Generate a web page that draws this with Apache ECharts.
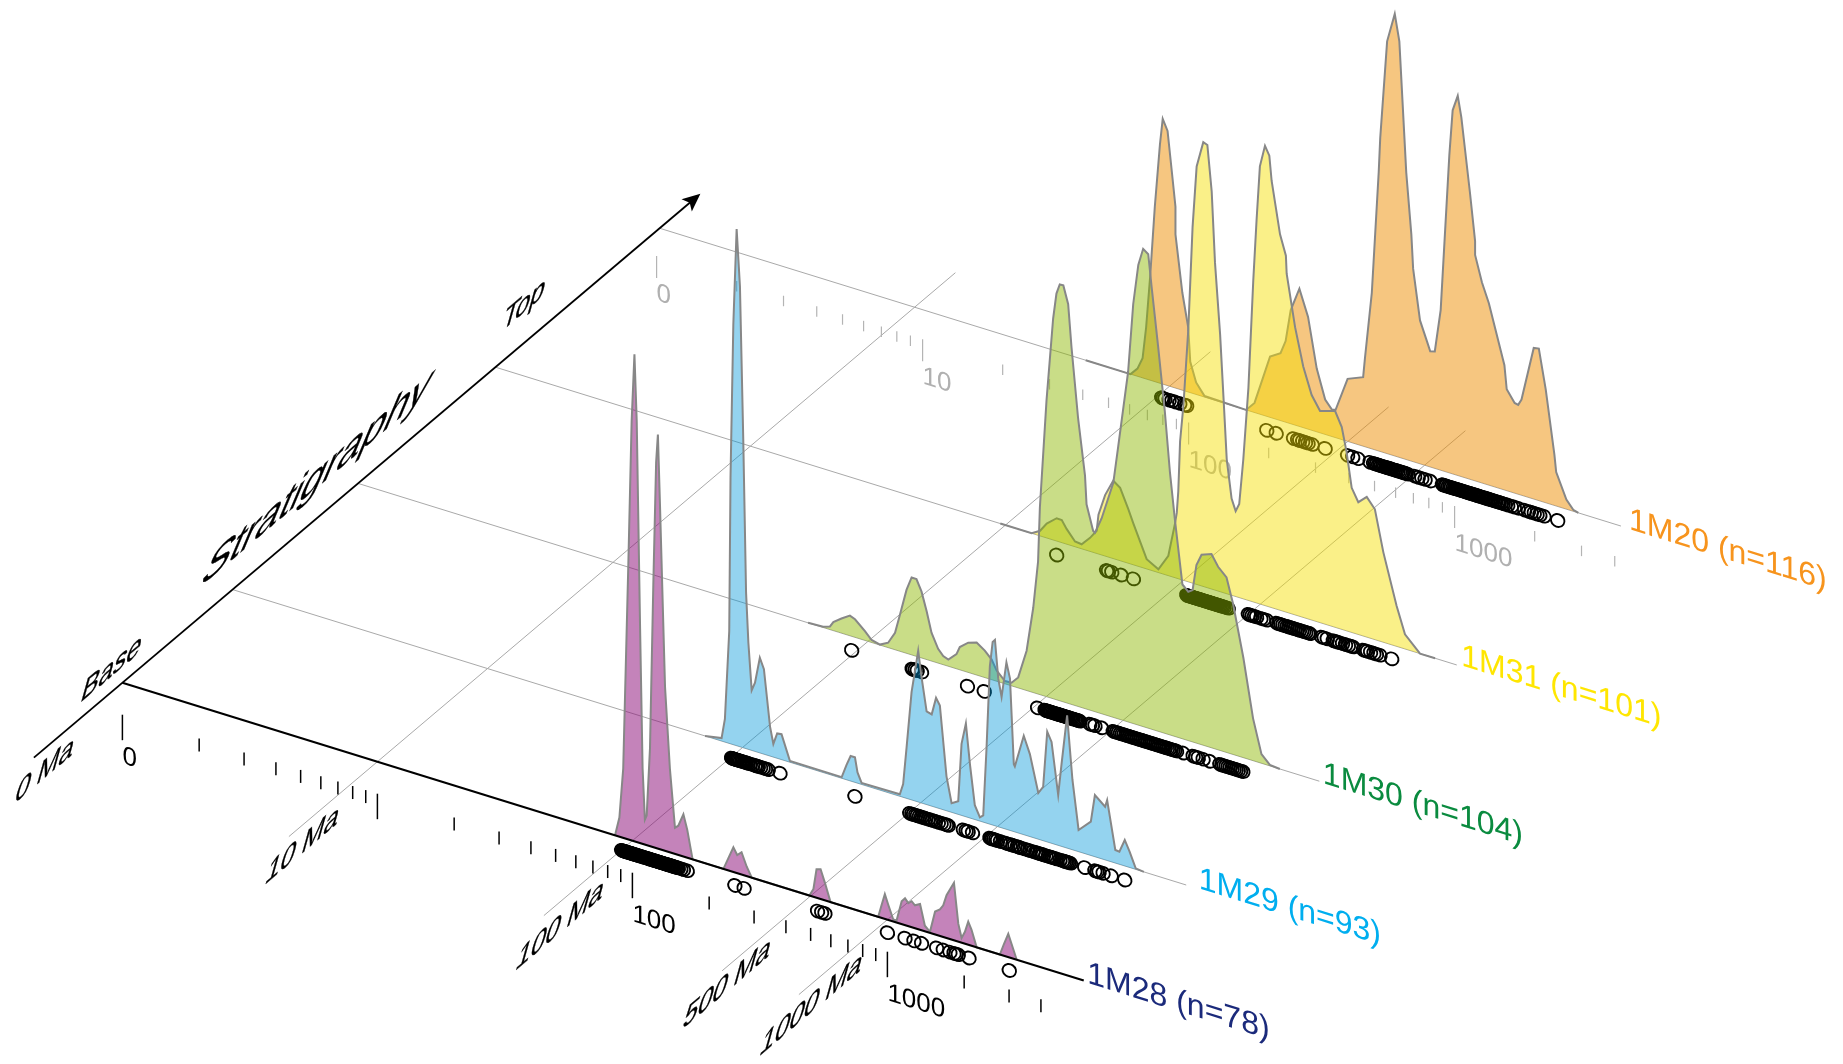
<!DOCTYPE html>
<html>
<head>
<meta charset="utf-8">
<style>html,body{margin:0;padding:0;background:#fff}#chart{width:1843px;height:1064px}</style>
<script src="https://cdn.jsdelivr.net/npm/echarts@6/dist/echarts.min.js"></script>
</head>
<body>
<div id="chart"></div>
<script>
// ---- data: [log10(age in Ma), relative probability] ----
const density1M20 = [[1.671,0],[1.847,0],[1.874,7.7],[1.894,19.6],[1.908,51.7],[1.924,104.7],[1.942,174.9],[1.962,238.5],[1.973,265.2],[1.992,254.6],[2.009,214.7],[2.023,181.3],[2.023,153.7],[2.05,97.4],[2.073,64.7],[2.081,30.9],[2.104,12],[2.137,1],[2.3,0],[2.333,9.6],[2.367,38.1],[2.394,60.8],[2.435,67.5],[2.455,81.1],[2.475,113.7],[2.509,137.8],[2.543,112.2],[2.577,63.2],[2.61,34.9],[2.637,26.7],[2.651,27.8],[2.698,62.5],[2.759,69],[2.766,88.4],[2.793,156.1],[2.82,278.7],[2.826,313.6],[2.853,412.3],[2.883,442.1],[2.901,416],[2.928,287.2],[2.948,226.8],[2.955,193],[2.982,143.4],[3.009,124.8],[3.022,115.6],[3.04,117],[3.063,160.1],[3.097,317.8],[3.11,363.6],[3.13,379.7],[3.144,359.4],[3.178,286.3],[3.198,239.7],[3.198,225.9],[3.225,200.5],[3.252,181.9],[3.313,124.7],[3.322,101.4],[3.353,90.1],[3.367,89.4],[3.38,95.7],[3.428,151.1],[3.448,152],[3.475,113.4],[3.509,50.7],[3.516,34],[3.556,9.6],[3.583,1.5],[3.603,0]];
const density1M31 = [[1.98,0],[2.103,0],[2.136,5.1],[2.162,14.4],[2.201,22.8],[2.221,22.5],[2.24,15.2],[2.273,5.2],[2.299,4.5],[2.332,13.5],[2.358,22.7],[2.365,39.3],[2.391,60.9],[2.423,77.8],[2.45,72.8],[2.482,54],[2.502,41.2],[2.554,9.7],[2.6,3.3],[2.639,19.9],[2.665,54.1],[2.672,65.3],[2.678,87.3],[2.685,137.8],[2.698,174.5],[2.717,251.1],[2.734,356],[2.75,417.9],[2.776,444.3],[2.792,442.7],[2.809,397.6],[2.822,327.2],[2.842,257.3],[2.857,187.1],[2.868,134.4],[2.887,96.7],[2.903,85.4],[2.917,93.7],[2.933,139.6],[2.953,212.6],[2.972,321.2],[2.985,382.9],[2.998,437.6],[3.018,459.8],[3.035,451.2],[3.044,426.9],[3.077,375.9],[3.1,356.3],[3.103,338.6],[3.136,287.7],[3.168,251],[3.201,225],[3.234,211.6],[3.293,216.2],[3.319,202.2],[3.338,178.7],[3.358,144.6],[3.384,132.3],[3.417,140.2],[3.449,130.3],[3.482,90.1],[3.534,40.6],[3.567,14.6],[3.626,0],[3.685,0]];
const density1M30 = [[1.765,0],[1.824,0.8],[1.851,3.2],[1.864,8.5],[1.896,14.7],[1.929,20.1],[1.949,18.1],[1.988,9.4],[2.014,2.5],[2.047,0.5],[2.079,4.9],[2.106,16.9],[2.125,36.3],[2.151,63.4],[2.171,77.4],[2.19,77.3],[2.21,66.3],[2.23,48.2],[2.249,28.3],[2.275,14.3],[2.295,8.7],[2.315,6.7],[2.347,14.7],[2.36,22.8],[2.393,29.7],[2.426,32.5],[2.458,26.9],[2.485,20.1],[2.504,10.9],[2.537,2.8],[2.563,3.1],[2.589,10.5],[2.622,39.8],[2.648,84.8],[2.667,132.8],[2.674,186.9],[2.7,296],[2.726,380.2],[2.739,406.2],[2.752,416.3],[2.766,416.5],[2.785,399.2],[2.798,357.4],[2.824,288],[2.851,232.9],[2.857,204.8],[2.883,180.2],[2.89,178.9],[2.916,195.3],[2.962,234.6],[2.981,271.9],[3.02,350],[3.04,419.3],[3.06,460.2],[3.079,477.8],[3.099,474],[3.112,442.9],[3.138,384.2],[3.164,322],[3.184,262.9],[3.203,218],[3.216,190.4],[3.233,154.3],[3.256,148.9],[3.273,152],[3.288,178.2],[3.308,189.9],[3.347,193.7],[3.373,183.1],[3.406,175],[3.432,150.3],[3.472,99.9],[3.51,42.3],[3.543,9.1],[3.576,1],[3.615,0]];
const density1M29 = [[1.853,0],[1.918,3],[1.931,23.1],[1.948,112.5],[1.953,266],[1.964,419.9],[1.977,516.7],[1.99,460.3],[2.003,308.2],[2.014,156],[2.023,106.9],[2.036,60.1],[2.049,68.8],[2.068,95.2],[2.084,85],[2.108,29.5],[2.121,13.2],[2.136,24.9],[2.153,25.4],[2.186,1.2],[2.389,1.2],[2.408,15],[2.424,25],[2.441,25.1],[2.451,10.7],[2.467,1.6],[2.617,2],[2.63,13.3],[2.644,52.6],[2.663,107.8],[2.689,151.2],[2.702,126.2],[2.722,93.3],[2.742,91.8],[2.759,109.6],[2.774,103.2],[2.8,34.4],[2.82,9.2],[2.846,13.2],[2.859,71.5],[2.876,93.2],[2.892,53.7],[2.911,14.4],[2.931,3.7],[2.944,6.7],[2.957,75.1],[2.97,157.8],[2.981,183.1],[2.99,185.9],[3.003,148.1],[3.016,130.8],[3.035,167],[3.049,151.8],[3.064,67.3],[3.068,65.5],[3.103,98.9],[3.127,82.5],[3.16,46.2],[3.179,53.9],[3.195,110.2],[3.212,101.4],[3.238,50.4],[3.251,82.1],[3.273,132.8],[3.294,69.8],[3.318,21.7],[3.366,33.8],[3.382,61.7],[3.422,53.2],[3.43,60.5],[3.462,13.1],[3.478,12.6],[3.499,26],[3.518,15.8],[3.542,1],[3.574,0]];
const density1M28 = [[1.932,0],[1.949,19.1],[1.964,69.3],[1.984,275],[1.997,418.9],[2.008,487],[2.017,420.5],[2.03,217.4],[2.04,75.3],[2.049,25],[2.056,29.6],[2.069,98],[2.082,262.3],[2.093,385.6],[2.1,414],[2.108,346],[2.128,163.8],[2.147,83.8],[2.167,26.1],[2.18,29.2],[2.2,42.2],[2.215,28],[2.236,0],[2.357,0],[2.376,12.1],[2.396,24.6],[2.411,18.2],[2.428,22.3],[2.448,9.6],[2.468,0],[2.694,0],[2.71,7.8],[2.722,28.4],[2.738,29.7],[2.755,17.5],[2.777,0],[2.964,0],[2.977,12.6],[2.99,24.7],[3.004,14.7],[3.023,2],[3.036,2.1],[3.056,22.9],[3.069,26.8],[3.082,23],[3.095,26],[3.108,22.9],[3.128,25.8],[3.147,5.6],[3.167,1.1],[3.187,23],[3.206,26.6],[3.219,31.7],[3.232,42.9],[3.261,57.5],[3.278,18],[3.291,4.8],[3.304,11.9],[3.317,23.1],[3.33,16],[3.35,0],[3.441,0],[3.457,11.8],[3.474,23.3],[3.487,14.2],[3.507,0]];

// ---- single grain ages, log10(age in Ma) ----
const grains1M20 = [1.969,1.975,1.982,1.998,2.009,2.023,2.04,2.059,2.067,2.381,2.418,2.486,2.502,2.51,2.522,2.533,2.543,2.559,2.61,2.698,2.718,2.739,2.786,2.8,2.806,2.812,2.819,2.824,2.83,2.837,2.843,2.849,2.855,2.86,2.866,2.871,2.878,2.884,2.89,2.896,2.903,2.909,2.915,2.921,2.928,2.935,2.961,2.975,2.989,3.002,3.022,3.07,3.075,3.081,3.086,3.093,3.099,3.105,3.112,3.118,3.123,3.129,3.136,3.142,3.148,3.155,3.16,3.166,3.172,3.178,3.183,3.19,3.196,3.203,3.209,3.214,3.22,3.226,3.232,3.238,3.244,3.25,3.256,3.261,3.268,3.274,3.28,3.287,3.293,3.3,3.308,3.315,3.326,3.34,3.352,3.367,3.392,3.407,3.418,3.43,3.441,3.452,3.468,3.522];
const grains1M31 = [2.201,2.397,2.404,2.417,2.454,2.502,2.711,2.715,2.719,2.723,2.728,2.731,2.736,2.74,2.744,2.749,2.753,2.757,2.761,2.766,2.77,2.775,2.779,2.784,2.788,2.792,2.797,2.801,2.805,2.81,2.814,2.819,2.823,2.828,2.832,2.837,2.842,2.847,2.852,2.858,2.866,2.874,2.953,2.96,2.968,2.977,2.985,3.002,3.012,3.025,3.064,3.072,3.08,3.088,3.097,3.105,3.112,3.12,3.128,3.136,3.145,3.153,3.162,3.17,3.178,3.187,3.195,3.24,3.25,3.262,3.286,3.294,3.302,3.31,3.322,3.334,3.345,3.356,3.364,3.404,3.412,3.42,3.432,3.445,3.455,3.469,3.515];
const grains1M30 = [1.936,2.173,2.177,2.185,2.193,2.21,2.39,2.456,2.665,2.694,2.698,2.702,2.707,2.711,2.716,2.72,2.725,2.73,2.734,2.739,2.743,2.748,2.752,2.757,2.761,2.766,2.77,2.775,2.78,2.785,2.79,2.795,2.8,2.805,2.811,2.816,2.821,2.826,2.831,2.87,2.88,2.89,2.916,2.962,2.968,2.975,2.982,2.99,2.997,3.004,3.012,3.019,3.026,3.034,3.041,3.048,3.056,3.063,3.07,3.078,3.085,3.092,3.099,3.107,3.114,3.121,3.129,3.136,3.143,3.151,3.158,3.166,3.174,3.181,3.189,3.196,3.203,3.21,3.236,3.275,3.285,3.295,3.314,3.34,3.38,3.388,3.396,3.404,3.412,3.42,3.428,3.436,3.444,3.452,3.461,3.47];
const grains1M29 = [1.957,1.96,1.964,1.967,1.971,1.975,1.978,1.982,1.987,1.992,1.997,2.002,2.008,2.015,2.022,2.03,2.04,2.05,2.056,2.062,2.071,2.081,2.09,2.101,2.147,2.441,2.656,2.664,2.671,2.679,2.686,2.694,2.702,2.711,2.719,2.728,2.737,2.745,2.756,2.768,2.779,2.79,2.8,2.807,2.866,2.877,2.885,2.902,2.97,2.975,2.98,2.986,2.993,3,3.012,3.03,3.038,3.05,3.06,3.068,3.078,3.085,3.092,3.105,3.118,3.127,3.14,3.15,3.157,3.165,3.173,3.18,3.19,3.2,3.207,3.213,3.22,3.23,3.245,3.255,3.262,3.268,3.274,3.28,3.286,3.342,3.382,3.39,3.398,3.414,3.446,3.499];
const grains1M28 = [1.958,1.962,1.965,1.969,1.972,1.976,1.979,1.983,1.987,1.99,1.994,1.998,2.001,2.005,2.008,2.012,2.016,2.02,2.026,2.031,2.037,2.042,2.047,2.053,2.06,2.064,2.068,2.072,2.076,2.081,2.084,2.088,2.092,2.097,2.1,2.104,2.109,2.112,2.116,2.12,2.125,2.128,2.132,2.137,2.14,2.144,2.149,2.152,2.156,2.16,2.165,2.17,2.175,2.18,2.19,2.2,2.215,2.402,2.438,2.726,2.742,2.755,3,3.069,3.104,3.134,3.193,3.219,3.245,3.261,3.269,3.278,3.32,3.478];

const sampleNames = ['1M20 (n=116)','1M31 (n=101)','1M30 (n=104)','1M29 (n=93)','1M28 (n=78)'];
const sampleLevels = [537.2,373,235.6,110.1,0];          // position along the Stratigraphy axis
const sampleAxisEnds = [3.77,3.77,3.77,3.74,3.77];
const tickAges = [1,2,3,4,5,6,7,8,9,10,20,30,40,50,60,70,80,90,100,200,300,400,500,600,700,800,900,1000,2000,3000,4000];
const majorAges = [1,10,100,1000];
const greyTickLabels = ['0','10','100','1000'];
const frontLabelAges = [1,100,1000];
const frontTickLabels = ['0','100','1000'];
const depoAges = [10,100,500,1000];
const depoLabels = ['0 Ma','10 Ma','100 Ma','500 Ma','1000 Ma'];

// ---- styling and projection ----
const fills = ['rgba(237,141,1,.5)','rgba(244,223,0,.467)','rgba(140,183,0,.47)','rgba(0,150,217,.42)','rgba(137,7,117,.5)'];
const textColors = ['#F7941D','#FFE600','#0A8B3F','#00AEEF','#1B2A7B'];
const FONT = '"Liberation Sans", Arial, sans-serif';
const O = [122.4,682.7], E1 = [255,79], E2 = [1,-0.846];
const LEVEL_MIN = -88.5, LEVEL_MAX = 578;
const nameShift = [[8,-6],[4.5,-8.5],[3.5,-7],[12.5,-5.5],[3.5,-6.5]];
const grainDrop = [14,14,14,14,13];
const project = (logAge, level, density, drop) =>
  [O[0] + logAge*E1[0] + level*E2[0], O[1] + logAge*E1[1] + level*E2[1] - (density||0) + (drop||0)];
const greyAxis = (age, drop) => [656.6 + Math.log10(age)*266, 256 + Math.log10(age)*83.3 + (drop||0)];
const blackAxis = (age, drop) => project(Math.log10(age), 0, 0, 32 + (drop||0));

function affine(X, Y) {
  return {scaleX:X[0], scaleY:Y[1], skewX:Math.atan(Y[0]/Y[1]), skewY:-Math.atan(X[1]/X[0])};
}
const baseSkew = affine([1,0.3098],[0,1]);
const maSkew = {scaleX:1, scaleY:1.32, skewX:Math.atan(-0.28), skewY:Math.atan(0.846)};
const stratSkew = {scaleX:1, scaleY:1.25, skewX:Math.atan(-0.42), skewY:Math.atan(0.846)};

function textEl(api, p, text, size, color, tf, extra) {
  const c = api.coord(p);
  return Object.assign({type:'text', x:c[0], y:c[1],
    style:Object.assign({text:text, fontSize:size, fontFamily:FONT, fill:color, align:'left', verticalAlign:'middle'}, extra||{})}, tf);
}
const custom = (data, renderItem) => ({type:'custom', coordinateSystem:'cartesian2d', xAxisIndex:0, yAxisIndex:0,
  data:data, renderItem:renderItem, silent:true, animation:false, clip:false, encode:{x:0,y:1}});
const segment = (api, a, b, color, w) => {
  const p = api.coord(a), q = api.coord(b);
  return {type:'line', shape:{x1:p[0],y1:p[1],x2:q[0],y2:q[1]}, style:{stroke:color,lineWidth:w}};
};

const series = [];
// depositional-age guide lines
series.push(custom(depoAges.map(a=>[a,0]), (p,api)=>{
  const d = Math.log10(api.value(0));
  return segment(api, project(d,LEVEL_MIN), project(d,LEVEL_MAX), '#a9a9a9', 1);
}));
// stratigraphic level lines of the four rear samples
series.push(custom(sampleLevels.slice(0,4).map((l,i)=>[l,sampleAxisEnds[i]]), (p,api)=>
  segment(api, project(0,api.value(0)), project(api.value(1),api.value(0)), '#a9a9a9', 1)));
// grey age scale at the back
series.push(custom(tickAges.map(a=>[a,0]), (p,api)=>{
  const a = api.value(0), major = majorAges.indexOf(a)>=0;
  return segment(api, greyAxis(a), greyAxis(a, major?22:10.5), '#b4b4b4', 1.2);
}));
series.push(custom(majorAges.map(a=>[a,0]), (p,api)=>
  textEl(api, greyAxis(api.value(0),37), greyTickLabels[p.dataIndex], 26, '#b0b0b0', baseSkew)));

// samples, back to front
[density1M20,density1M31,density1M30,density1M29,density1M28].forEach((curve,i)=>{
  const level = sampleLevels[i];
  series.push(custom(curve, (p,api)=>{
    if (p.dataIndex!==0) return null;
    const pts = curve.map(v=>api.coord(project(v[0],level,v[1])));
    return {type:'group', children:[
      {type:'polygon', shape:{points:pts}, style:{fill:fills[i], stroke:null}},
      {type:'polyline', shape:{points:pts}, style:{fill:null, stroke:'#878787', lineWidth:2}}
    ]};
  }));
  if (i===4) {
    series.push(custom([[level,sampleAxisEnds[i]]], (p,api)=>
      segment(api, project(0,level), project(api.value(1),level), '#000', 2.2)));
  }
  const g = [grains1M20,grains1M31,grains1M30,grains1M29,grains1M28][i];
  series.push(custom(g.map(v=>[v,0]), (p,api)=>{
    const c = api.coord(project(api.value(0),level,0,grainDrop[i]));
    return {type:'ellipse', x:c[0], y:c[1], rotation:-0.6, shape:{cx:0,cy:0,rx:7,ry:6.2},
      style:{fill:'transparent', stroke:'#000', lineWidth:1.9}};
  }));
});

// black age scale in front
series.push(custom(tickAges.map(a=>[a,0]), (p,api)=>{
  const a = api.value(0), major = majorAges.indexOf(a)>=0;
  return segment(api, blackAxis(a), blackAxis(a, major?25.5:13), '#000', 1.5);
}));
series.push(custom(frontLabelAges.map(a=>[a,0]), (p,api)=>
  textEl(api, blackAxis(api.value(0),41.5), frontTickLabels[p.dataIndex], 26, '#000', baseSkew)));
// sample names at the line ends
series.push(custom(sampleNames.map((n,i)=>[sampleLevels[i],sampleAxisEnds[i]]), (p,api)=>{
  const i = p.dataIndex, e = project(api.value(1),api.value(0));
  return textEl(api, [e[0]+nameShift[i][0],e[1]+nameShift[i][1]], sampleNames[i], 32, textColors[i], baseSkew);
}));
// Stratigraphy axis
series.push(custom([[LEVEL_MIN,LEVEL_MAX]], (p,api)=>{
  const a = project(0,api.value(0)), b = project(0,api.value(1));
  const u = [0.763,-0.646], n = [0.646,0.763];
  const at = (al,nr)=>api.coord([b[0]+u[0]*al+n[0]*nr, b[1]+u[1]*al+n[1]*nr]);
  const s = api.coord(a), e = at(-12,0);
  return {type:'group', children:[
    {type:'line', shape:{x1:s[0],y1:s[1],x2:e[0],y2:e[1]}, style:{stroke:'#000',lineWidth:1.8}},
    {type:'polygon', shape:{points:[at(0,0),at(-18,-8),at(-14,0),at(-18,8)]}, style:{fill:'#000'}}
  ]};
}));
// slanted captions
const captionText = ['Stratigraphy','Base','Top'];
const captionSize = [42,26,26];
const captionPos = [[204,574],[82,694],[503,323]];
series.push(custom(captionText.map((t,i)=>[i,0]), (p,api)=>{
  const i = p.dataIndex;
  return textEl(api, captionPos[i], captionText[i], captionSize[i], '#000', i===0?stratSkew:maSkew, {stroke:'#000', lineWidth:0.35});
}));
const depoPos = [[16,795],[266.5,876],[517,962],[684,1020.5],[761,1047.5]];
series.push(custom(depoLabels.map((t,i)=>[i,0]), (p,api)=>{
  const i = p.dataIndex;
  return textEl(api, depoPos[i], depoLabels[i], 26, '#000', maSkew, {stroke:'#000', lineWidth:0.3});
}));

const chart = echarts.init(document.getElementById('chart'), null, {renderer:'canvas', width:1843, height:1064});
chart.setOption({
  backgroundColor:'#fff',
  animation:false,
  grid:{left:0,right:0,top:0,bottom:0},
  xAxis:{type:'value',min:0,max:1843,show:false},
  yAxis:{type:'value',min:0,max:1064,inverse:true,show:false},
  series:series
});
</script>
</body>
</html>
